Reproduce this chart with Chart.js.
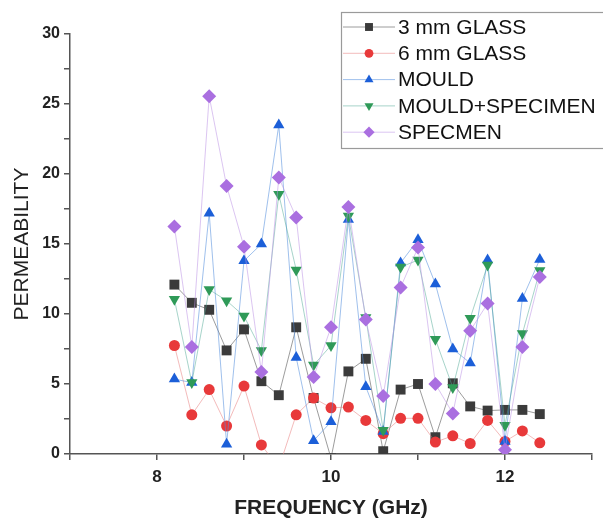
<!DOCTYPE html>
<html>
<head>
<meta charset="utf-8">
<script src="https://cdn.jsdelivr.net/npm/chart.js@4.4.1/dist/chart.umd.min.js"></script>
<style>
  html, body { margin: 0; padding: 0; background: #fff; }
  #wrap { width: 603px; height: 521px; }
</style>
</head>
<body>
<div id="wrap"><canvas id="mycanvas" width="603" height="521"></canvas></div>
<script>
// frequency (GHz)
var freq = [8.2, 8.4, 8.6, 8.8, 9.0, 9.2, 9.4, 9.6, 9.8, 10.0, 10.2,
            10.4, 10.6, 10.8, 11.0, 11.2, 11.4, 11.6, 11.8, 12.0, 12.2, 12.4];

var glass3 = [12.1, 10.8, 10.3, 7.4, 8.9, 5.2, 4.2, 9.05, 4.0, -0.3, 5.9,
              6.8, 0.2, 4.6, 5.0, 1.2, 5.05, 3.4, 3.1, 3.15, 3.15, 2.85];
var glass6 = [7.75, 2.8, 4.6, 2.0, 4.85, 0.65, -1.0, 2.8, 4.0, 3.3, 3.35,
              2.4, 1.45, 2.55, 2.55, 0.85, 1.3, 0.75, 2.4, 0.9, 1.65, 0.8];
var mould = [5.35, 5.1, 17.2, 0.7, 13.8, 15.0, 23.5, 6.9, 0.95, 2.3, 16.75,
             4.8, 1.6, 13.65, 15.3, 12.15, 7.5, 6.5, 13.85, 0.9, 11.1, 13.9];
var mouldSpec = [11.05, 5.1, 11.75, 10.95, 9.85, 7.4, 18.55, 13.15, 6.35, 7.75, 17.0,
                 9.75, 1.7, 13.35, 13.85, 8.2, 4.75, 9.7, 13.5, 2.05, 8.6, 13.1];
var specimen = [16.25, 7.65, 25.55, 19.15, 14.8, 5.85, 19.75, 16.9, 5.5, 9.05, 17.65,
                9.6, 4.15, 11.9, 14.75, 5.0, 2.9, 8.8, 10.75, 0.3, 7.65, 12.65];

var xTicks = [8, 10, 12];
var yTicks = [0, 5, 10, 15, 20, 25, 30];

var seriesNames = ['3 mm GLASS', '6 mm GLASS', 'MOULD', 'MOULD+SPECIMEN', 'SPECMEN'];
var seriesValues = [glass3, glass6, mould, mouldSpec, specimen];
var markColors = ['#3b3b3b', '#e8393a', '#1c5fd8', '#2f9a58', '#aa6fe0'];
var lineColors = ['rgba(90,90,90,0.6)', 'rgba(232,120,120,0.5)', 'rgba(80,140,220,0.55)',
                  'rgba(80,170,150,0.5)', 'rgba(190,150,230,0.55)'];
var shapes = ['rect', 'circle', 'triangle', 'triangle', 'rectRot'];
var rotations = [0, 0, 0, 180, 0];
var radii = [7, 5.5, 6.5, 6.5, 7];

var FONT = "'Liberation Sans', Arial, Helvetica, sans-serif";

var datasets = [];
for (var i = 0; i < seriesNames.length; i++) {
	var pts = [];
	for (var j = 0; j < freq.length; j++) {
		pts.push({x: freq[j], y: seriesValues[i][j]});
	}
	datasets.push({
		label: seriesNames[i],
		data: pts,
		showLine: true,
		borderColor: lineColors[i],
		borderWidth: 1,
		backgroundColor: markColors[i],
		pointBackgroundColor: markColors[i],
		pointBorderColor: markColors[i],
		pointBorderWidth: 0,
		pointStyle: shapes[i],
		pointRotation: rotations[i],
		pointRadius: radii[i],
		pointHoverRadius: radii[i],
		order: seriesNames.length - i
	});
}

// small marker painter for the legend
function marker(ctx, shape, rot, r, x, y, color) {
	ctx.save();
	ctx.fillStyle = color;
	ctx.beginPath();
	if (shape === 'rect') {
		var s = r * Math.SQRT1_2;
		ctx.rect(x - s, y - s, 2 * s, 2 * s);
	} else if (shape === 'circle') {
		ctx.arc(x, y, r, 0, Math.PI * 2);
	} else if (shape === 'triangle') {
		var d = rot ? -1 : 1;
		ctx.moveTo(x, y - d * r);
		ctx.lineTo(x + r * 0.866, y + d * r * 0.5);
		ctx.lineTo(x - r * 0.866, y + d * r * 0.5);
	} else {
		ctx.moveTo(x, y - r);
		ctx.lineTo(x + r, y);
		ctx.lineTo(x, y + r);
		ctx.lineTo(x - r, y);
	}
	ctx.closePath();
	ctx.fill();
	ctx.restore();
}

var boxLegend = {
	id: 'boxLegend',
	afterDraw: function(chart) {
		var ctx = chart.ctx;
		var left = 341, top = 12, rowH = 26.3;
		ctx.save();
		ctx.fillStyle = '#fff';
		ctx.fillRect(left, top, 280, 136);
		ctx.strokeStyle = '#9a9a9a';
		ctx.lineWidth = 1.2;
		ctx.strokeRect(left + 0.5, top + 0.5, 280, 136);
		ctx.font = '21px ' + FONT;
		ctx.textBaseline = 'middle';
		for (var k = 0; k < seriesNames.length; k++) {
			var y = top + 15 + k * rowH;
			ctx.strokeStyle = lineColors[k];
			ctx.lineWidth = 1;
			ctx.beginPath();
			ctx.moveTo(left + 2, y);
			ctx.lineTo(left + 54, y);
			ctx.stroke();
			marker(ctx, shapes[k], rotations[k], radii[k] * 0.8, left + 28, y, markColors[k]);
			ctx.fillStyle = '#111';
			ctx.fillText(seriesNames[k], left + 57, y + 1);
		}
		ctx.restore();
	}
};

var ctx = document.getElementById('mycanvas');

var chart = new Chart(ctx, {
	type: 'scatter',
	data: { datasets: datasets },
	plugins: [boxLegend],
	options: {
		responsive: false,
		animation: false,
		layout: { padding: { top: 34, right: 11, left: 0, bottom: 0 } },
		plugins: {
			legend: { display: false },
			tooltip: { enabled: false }
		},
		scales: {
			x: {
				type: 'linear',
				min: 7,
				max: 13,
				afterFit: function(s) { s.height = 67; },
				afterBuildTicks: function(s) {
					s.ticks = [7, 8, 9, 10, 11, 12, 13].map(function(v) { return {value: v}; });
				},
				ticks: {
					autoSkip: false,
					maxRotation: 0,
					padding: 7,
					color: '#222',
					font: { family: FONT, size: 17, weight: 'bold' },
					callback: function(v) { return xTicks.indexOf(v) >= 0 ? String(v) : ''; }
				},
				grid: { drawOnChartArea: false, drawTicks: true, tickLength: 6, color: '#555', lineWidth: 1.5 },
				border: { color: '#555', width: 1.5 },
				title: {
					display: true,
					text: 'FREQUENCY (GHz)',
					color: '#222',
					font: { family: FONT, size: 21, weight: 'bold' },
					padding: { top: 6, bottom: 0 }
				}
			},
			y: {
				min: 0,
				max: 30,
				afterFit: function(s) { s.width = 70; },
				afterBuildTicks: function(s) {
					var t = [];
					for (var v = 0; v <= 30; v += 2.5) t.push({value: v});
					s.ticks = t;
				},
				ticks: {
					autoSkip: false,
					padding: 4,
					color: '#222',
					font: { family: FONT, size: 16, weight: 'bold' },
					callback: function(v) { return yTicks.indexOf(v) >= 0 ? String(v) : ''; }
				},
				grid: { drawOnChartArea: false, drawTicks: true, tickLength: 6, color: '#555', lineWidth: 1.5 },
				border: { color: '#555', width: 1.5 },
				title: {
					display: true,
					text: 'PERMEABILITY',
					color: '#222',
					font: { family: FONT, size: 21 },
					padding: { top: 10, bottom: 6 }
				}
			}
		}
	}
});
</script>
</body>
</html>
